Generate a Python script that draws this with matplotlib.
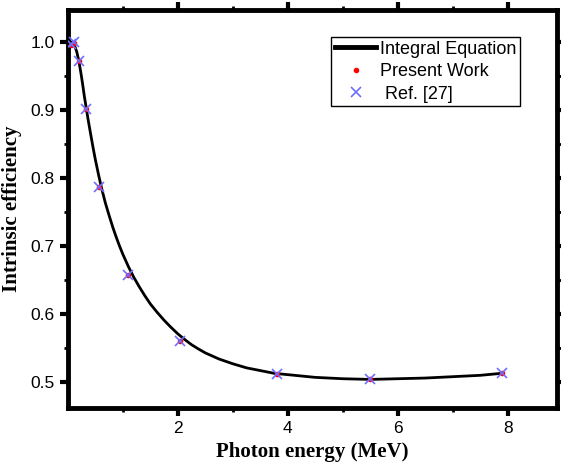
import matplotlib.pyplot as plt
import numpy as np

# readings
energy = [0.06, 0.12, 0.2, 0.33, 0.56, 1.1, 2.04, 3.8, 5.49, 7.9]
present = [0.995, 0.998, 0.972, 0.901, 0.787, 0.658, 0.560, 0.512, 0.504, 0.514]
ref27 = [0.997, 1.0, 0.972, 0.901, 0.787, 0.658, 0.560, 0.512, 0.504, 0.514]

curve_x = [0.05, 0.09, 0.12, 0.16, 0.2, 0.24, 0.27, 0.3, 0.33, 0.37, 0.42, 0.46, 0.5,
           0.56, 0.62, 0.68, 0.75, 0.82, 0.88, 0.94, 1.0, 1.1, 1.2, 1.3, 1.4, 1.5,
           1.62, 1.75, 1.87, 2.0, 2.12, 2.25, 2.37, 2.5, 2.75, 3.0, 3.25, 3.5, 3.75,
           4.0, 4.5, 5.0, 5.5, 6.0, 6.5, 7.0, 7.5, 7.9]
curve_y = [1.0, 0.999, 0.995, 0.986, 0.972, 0.953, 0.937, 0.920, 0.905, 0.885, 0.862,
           0.844, 0.827, 0.804, 0.783, 0.764, 0.745, 0.727, 0.713, 0.700, 0.688,
           0.670, 0.654, 0.640, 0.627, 0.615, 0.603, 0.591, 0.581, 0.571, 0.563,
           0.555, 0.549, 0.543, 0.534, 0.527, 0.521, 0.517, 0.513, 0.511, 0.507,
           0.505, 0.504, 0.505, 0.506, 0.508, 0.510, 0.513]

fig = plt.figure(figsize=(5.61, 4.66), dpi=100)
ax = fig.add_axes([0.121, 0.1245, 0.872, 0.854])

ax.plot(curve_x, curve_y, color='black', lw=2, label='Integral Equation', zorder=2)
ax.plot(energy, present, 'o', color='red', ms=3, label='Present Work', zorder=3)
ax.plot(energy, ref27, 'x', color='#6f6fff', ms=7, mew=1.2, label=' Ref. [27]', zorder=4)

ax.set_xlim(0, 8.9)
ax.set_ylim(0.462, 1.047)
ax.set_xticks([2, 4, 6, 8])
ax.set_yticks([0.5, 0.6, 0.7, 0.8, 0.9, 1.0])
ax.set_xticks([1, 3, 5, 7], minor=True)
ax.set_yticks(np.arange(0.55, 1.0, 0.1), minor=True)

for s in ax.spines.values():
    s.set_linewidth(3.5)
ax.tick_params(which='major', direction='out', length=6, width=3, labelsize=12.5,
               top=True, right=True)
ax.tick_params(which='minor', direction='out', length=3, width=2, top=True, right=True)
for lab in ax.get_xticklabels() + ax.get_yticklabels():
    lab.set_fontfamily('Liberation Sans')

ax.set_xlabel('Photon energy (MeV)', fontfamily='Liberation Serif', fontweight='bold',
              fontsize=15, labelpad=4)
ax.set_ylabel('Intrinsic efficiency', fontfamily='Liberation Serif', fontweight='bold',
              fontsize=15, labelpad=6)

leg = ax.legend(loc='upper right', bbox_to_anchor=(0.924, 0.932), fancybox=False,
                edgecolor='black', framealpha=1, borderpad=0.2, labelspacing=0.3,
                handlelength=2.3, handletextpad=0.2, borderaxespad=0,
                prop={'family': 'Liberation Sans', 'size': 13})
leg.get_frame().set_linewidth(1)
leg.get_lines()[0].set_linewidth(3.5)

fig.savefig('out.png', dpi=100)
